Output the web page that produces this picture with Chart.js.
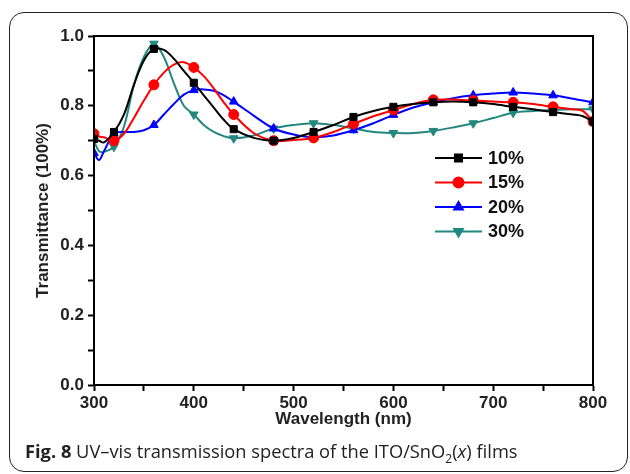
<!DOCTYPE html>
<html>
<head>
<meta charset="utf-8">
<script src="https://cdn.jsdelivr.net/npm/chart.js@4/dist/chart.umd.min.js"></script>
<style>
  body { margin: 0; background: #fff; }
  #wrap { position: relative; width: 630px; height: 474px; }
  #ramec { position: absolute; left: 9px; top: 12px; width: 617px; height: 458px;
    border: 1.5px solid #222; border-radius: 15px; }
  #graf { position: absolute; left: 0; top: 0; width: 630px; height: 474px; }
  #popis { position: absolute; left: 25px; top: 439px; font-family: "Open Sans", sans-serif;
    font-size: 18.3px; color: #222; white-space: nowrap; line-height: 24px; }
  #popis sub { font-size: 12px; line-height: 0; }
</style>
</head>
<body>
<div id="wrap">
  <div id="ramec"></div>
  <div id="graf"><canvas id="MyChart"></canvas></div>
  <div id="popis"><b>Fig. 8</b> UV–vis transmission spectra of the ITO/SnO<sub>2</sub>(<i>x</i>) films</div>
</div>
<script>
// data
var vlnovaDelka = [300, 305, 310, 320, 330, 340, 350, 360, 370, 380, 390, 400, 410, 420, 430, 440, 460, 480, 500, 520, 540, 560, 580, 600, 620, 640, 660, 680, 700, 720, 740, 760, 780, 790, 800];
var popisky = ["10%", "15%", "20%", "30%"];
var t10 = [0.705, 0.70, 0.695, 0.725, 0.775, 0.86, 0.93, 0.963, 0.96, 0.935, 0.90, 0.866, 0.83, 0.795, 0.76, 0.733, 0.708, 0.70, 0.708, 0.725, 0.745, 0.768, 0.785, 0.797, 0.805, 0.81, 0.812, 0.81, 0.805, 0.797, 0.79, 0.782, 0.775, 0.77, 0.755];
var t15 = [0.72, 0.712, 0.71, 0.70, 0.72, 0.765, 0.815, 0.86, 0.895, 0.918, 0.925, 0.91, 0.885, 0.85, 0.81, 0.775, 0.722, 0.70, 0.702, 0.708, 0.725, 0.748, 0.77, 0.788, 0.805, 0.817, 0.818, 0.815, 0.812, 0.81, 0.805, 0.797, 0.79, 0.785, 0.755];
var t20 = [0.665, 0.645, 0.67, 0.72, 0.725, 0.725, 0.73, 0.745, 0.775, 0.805, 0.832, 0.845, 0.847, 0.843, 0.83, 0.812, 0.772, 0.735, 0.718, 0.71, 0.715, 0.73, 0.75, 0.774, 0.795, 0.81, 0.822, 0.83, 0.835, 0.838, 0.835, 0.83, 0.82, 0.815, 0.81];
var t30 = [0.70, 0.67, 0.668, 0.683, 0.74, 0.86, 0.94, 0.978, 0.94, 0.865, 0.80, 0.775, 0.745, 0.725, 0.713, 0.707, 0.715, 0.735, 0.745, 0.75, 0.745, 0.735, 0.725, 0.722, 0.722, 0.728, 0.738, 0.75, 0.765, 0.78, 0.785, 0.788, 0.79, 0.79, 0.79];
var yTicks = [0, 0.2, 0.4, 0.6, 0.8, 1.0];
var xTicks = [300, 400, 500, 600, 700, 800];

var barvy = ["#000000", "#ff0000", "#0000ff", "#21877f"];
var tvary = ["rect", "circle", "triangle", "triangle"];
var rotace = [0, 0, 0, 180];

// značky jen každých 40 nm
var velikost = vlnovaDelka.map(function (w) {
  return (w == 300 || (w - 320) % 40 == 0) ? 5 : 0;
});

function body(s) {
  return vlnovaDelka.map(function (w, i) { return { x: w, y: s[i] }; });
}

var rady = [t10, t15, t20, t30].map(function (s, i) {
  return {
    label: popisky[i],
    data: body(s),
    borderColor: barvy[i],
    backgroundColor: barvy[i],
    borderWidth: 2,
    pointStyle: tvary[i],
    rotation: rotace[i],
    pointRadius: velikost,
    pointBorderWidth: 1,
    tension: 0.35
  };
});

var pismo = "'Liberation Sans', Arial, sans-serif";

// rámeček kolem grafu a legenda
var ramecek = {
  id: "ramecek",
  afterDatasetsDraw: function (chart) {
    var c = chart.ctx, a = chart.chartArea;
    c.save();
    c.strokeStyle = "#000";
    c.lineWidth = 2;
    c.strokeRect(a.left, a.top, a.right - a.left, a.bottom - a.top);
    var lx = 435, ly = 158;
    chart.data.datasets.forEach(function (d, i) {
      var y = ly + i * 24.5;
      c.strokeStyle = d.borderColor;
      c.lineWidth = 2;
      c.beginPath();
      c.moveTo(lx, y);
      c.lineTo(lx + 47, y);
      c.stroke();
      Chart.helpers.drawPoint(c, {
        pointStyle: d.pointStyle, rotation: d.rotation, radius: 5, borderWidth: 1
      }, lx + 23.5, y);
      c.fillStyle = d.borderColor;
      c.fill();
      c.fillStyle = "#111";
      c.font = "bold 18px " + pismo;
      c.textBaseline = "middle";
      c.fillText(d.label, lx + 53, y + 1);
    });
    c.restore();
  }
};

var graf = document.getElementById("MyChart").getContext("2d");
var SF = new Chart(graf, {
  type: "line",
  data: { datasets: rady },
  plugins: [ramecek],
  options: {
    responsive: true,
    maintainAspectRatio: false,
    animation: false,
    layout: { padding: { left: 33, top: 36, right: 37, bottom: 44 } },
    plugins: { legend: { display: false }, tooltip: { enabled: false } },
    scales: {
      x: {
        type: "linear",
        min: 300,
        max: 800,
        afterFit: function (s) { s.height = 45; },
        afterBuildTicks: function (s) {
          var t = [];
          for (var v = 300; v <= 800; v += 50) t.push({ value: v });
          s.ticks = t;
        },
        ticks: {
          autoSkip: false,
          maxRotation: 0,
          padding: 2,
          color: "#222",
          font: { family: pismo, size: 17, weight: "bold" },
          callback: function (v) { return xTicks.indexOf(v) >= 0 ? String(v) : ""; }
        },
        grid: { drawOnChartArea: false, tickLength: 6, tickWidth: 2, tickColor: "#000" },
        border: { color: "#000", width: 2 },
        title: {
          display: true,
          text: "Wavelength (nm)",
          color: "#222",
          font: { family: pismo, size: 17, weight: "bold" },
          padding: 0
        }
      },
      y: {
        min: 0,
        max: 1,
        afterFit: function (s) { s.width = 61; },
        afterBuildTicks: function (s) {
          var t = [];
          for (var k = 0; k <= 10; k++) t.push({ value: k / 10 });
          s.ticks = t;
        },
        ticks: {
          autoSkip: false,
          padding: 4,
          color: "#222",
          font: { family: pismo, size: 17, weight: "bold" },
          callback: function (v) {
            var r = Math.round(v * 10) / 10;
            return yTicks.indexOf(r) >= 0 ? r.toFixed(1) : "";
          }
        },
        grid: { drawOnChartArea: false, tickLength: 6, tickWidth: 2, tickColor: "#000" },
        border: { color: "#000", width: 2 },
        title: {
          display: true,
          text: "Transmittance (100%)",
          color: "#222",
          font: { family: pismo, size: 17, weight: "bold" },
          padding: 0
        }
      }
    }
  }
});
</script>
</body>
</html>
